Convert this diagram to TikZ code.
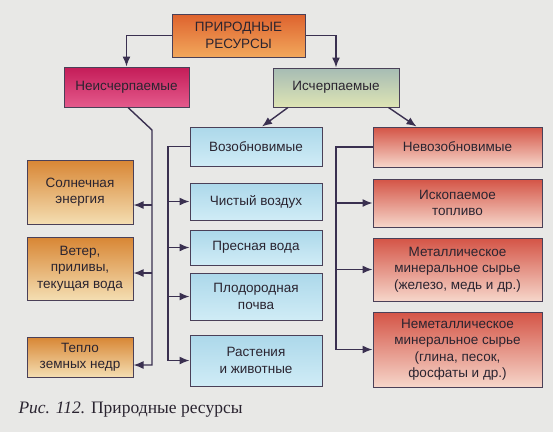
\documentclass[tikz,border=0pt]{standalone}
\usepackage{fontspec}
\setmainfont{Liberation Serif}
\setsansfont{Liberation Sans}
\usetikzlibrary{arrows.meta,positioning}
\definecolor{bgc}{HTML}{E8E8E6}
\definecolor{edgec}{HTML}{4A4058}
\definecolor{linec}{HTML}{3A3050}
\definecolor{txtc}{HTML}{2A2430}
\tikzset{
  box/.style={draw=edgec, line width=1pt, rectangle, inner sep=2pt, align=center, text=txtc, font=\sffamily\fontsize{13.5}{16.5}\selectfont},
  topbox/.style={box, top color={rgb,255:red,222;green,98;blue,46}, bottom color={rgb,255:red,242;green,168;blue,92}},
  inexbox/.style={box, top color={rgb,255:red,196;green,28;blue,88}, bottom color={rgb,255:red,228;green,90;blue,140}},
  exbox/.style={box, top color={rgb,255:red,166;green,188;blue,180}, bottom color={rgb,255:red,222;green,228;blue,180}},
  bluebox/.style={box, top color={rgb,255:red,172;green,216;blue,234}, bottom color={rgb,255:red,208;green,236;blue,246}},
  orbox/.style={box, top color={rgb,255:red,216;green,134;blue,52}, bottom color={rgb,255:red,244;green,222;blue,178}},
  redbox/.style={box, top color={rgb,255:red,212;green,84;blue,70}, bottom color={rgb,255:red,246;green,214;blue,202}},
  arr/.style={-{Latex[length=10pt,width=8pt]}, line width=1.4pt, draw=linec},
}
\begin{document}
\begin{tikzpicture}[x=1pt,y=-1pt]
\fill[bgc] (0,0) rectangle (553,432);
\useasboundingbox (0,0) rectangle (553,432);

% top levels
\node[topbox, minimum width=133pt, minimum height=43pt] (res) at (238.5,35.5) {ПРИРОДНЫЕ\\РЕСУРСЫ};
\node[inexbox, minimum width=125pt, minimum height=40pt] (inex) at (126.5,87) {Неисчерпаемые};
\node[exbox, minimum width=126pt, minimum height=39pt] (ex) at (336,87.5) {Исчерпаемые};
\node[bluebox, minimum width=132pt, minimum height=39pt] (renew) at (256,146.5) {Возобновимые};
\node[redbox, minimum width=169pt, minimum height=40pt] (nonrenew) at (457.5,147) {Невозобновимые};

% inexhaustible
\node[orbox, minimum width=106pt, minimum height=64pt] (sun) at (80,192) {Солнечная\\энергия};
\node[orbox, minimum width=106pt, minimum height=63pt] (wind) at (80,268.5) {Ветер,\\приливы,\\текущая вода};
\node[orbox, minimum width=106pt, minimum height=40pt] (heat) at (80,357) {Тепло\\земных недр};

% renewable
\node[bluebox, minimum width=132pt, minimum height=37pt] (air) at (256,201.5) {Чистый воздух};
\node[bluebox, minimum width=132pt, minimum height=35pt] (water) at (256,247.5) {Пресная вода};
\node[bluebox, minimum width=132pt, minimum height=47pt] (soil) at (256,296.5) {Плодородная\\почва};
\node[bluebox, minimum width=132pt, minimum height=51pt] (life) at (256,360.5) {Растения\\и животные};

% non-renewable
\node[redbox, minimum width=169pt, minimum height=48pt] (fuel) at (457.5,203) {Ископаемое\\топливо};
\node[redbox, minimum width=169pt, minimum height=63pt] (metal) at (457.5,269.5) {Металлическое\\минеральное сырье\\(железо, медь и др.)};
\node[redbox, minimum width=169pt, minimum height=75pt] (nonmetal) at (457.5,349.5) {Неметаллическое\\минеральное сырье\\(глина, песок,\\фосфаты и др.)};

\node[anchor=west, font=\fontsize{17.5}{20}\selectfont, text=txtc] (cap) at (15,410) {\textit{Рис. 112.} Природные ресурсы};

% connectors
\draw[arr] (res.west) -| (inex.north);
\draw[arr] (res.east) -| (ex.north);
\draw[arr] ([xshift=-48pt]ex.south) -- ([xshift=6pt]renew.north);
\draw[arr] ([xshift=-11pt]ex.south east) -- ([xshift=44pt]nonrenew.north west);

\coordinate (ltop) at (152,130);
\coordinate (lsun) at (152,205);
\coordinate (lwind) at (152,273);
\coordinate (lheat) at (152,365);
\draw[arr] ([xshift=1.5pt]inex.south) -- (ltop) -- (lheat) -- (lheat -| heat.east);
\draw[arr] (lsun) -- (lsun -| sun.east);
\draw[arr] (lwind) -- (lwind -| wind.east);

\coordinate (mtop) at (168,146.5);
\draw[arr] (renew.west) -- (mtop) |- (life.west);
\foreach \b in {air,water,soil}
  \draw[arr] (mtop |- \b) -- (\b.west);

\coordinate (rtop) at (336,147);
\draw[arr] (nonrenew.west) -- (rtop) |- (nonmetal.west);
\foreach \b in {fuel,metal}
  \draw[arr] (rtop |- \b) -- (\b.west);

\end{tikzpicture}
\end{document}
